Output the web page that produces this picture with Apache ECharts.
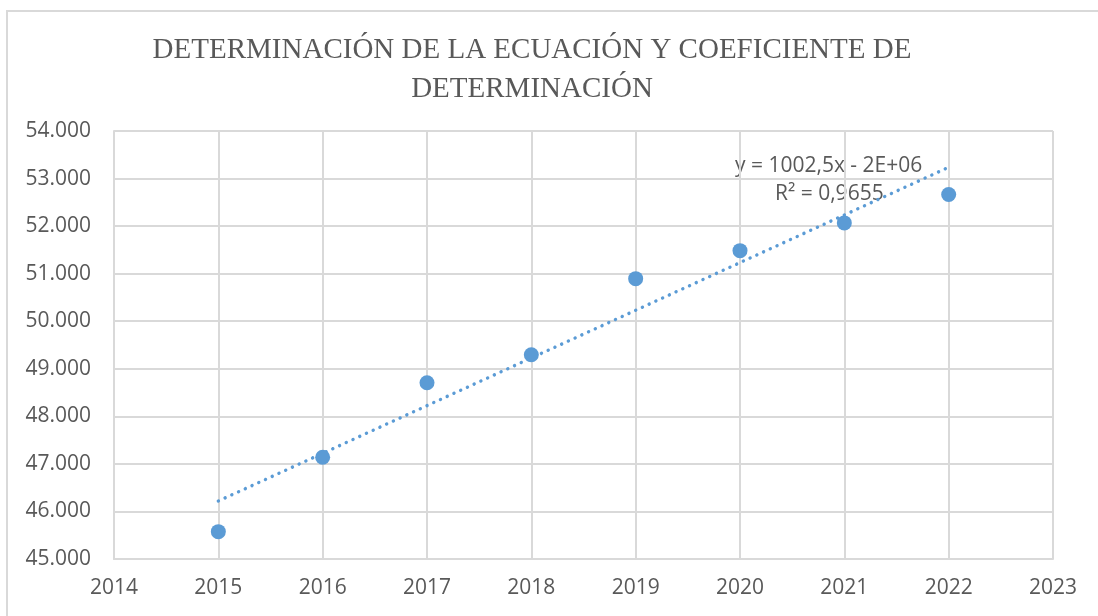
<!DOCTYPE html>
<html>
<head>
<meta charset="utf-8">
<title>Determinación de la ecuación y coeficiente de determinación</title>
<script src="https://cdn.jsdelivr.net/npm/echarts@6/dist/echarts.min.js"></script>
<style>
  html, body { margin: 0; padding: 0; background: #ffffff; }
  #chart { width: 1098px; height: 616px; }
</style>
</head>
<body>
<div id="chart"></div>
<script>
// Observed values per year
const years = [2015, 2016, 2017, 2018, 2019, 2020, 2021, 2022];
const values = [45575, 47141, 48705, 49295, 50895, 51484, 52068, 52666];

// Axis ranges
const xTicks = [2014, 2015, 2016, 2017, 2018, 2019, 2020, 2021, 2022, 2023];
const yMin = 45000, yMax = 54000, yStep = 1000;

// Trend line annotation text
const equationText = 'y = 1002,5x - 2E+06';
const r2Text = 'R² = 0,9655';

const titleText = 'DETERMINACIÓN DE LA ECUACIÓN Y COEFICIENTE DE\nDETERMINACIÓN';

// Least-squares linear fit of the observed points
function linearFit(xs, ys) {
  const n = xs.length;
  const mx = xs.reduce((a, b) => a + b, 0) / n;
  const my = ys.reduce((a, b) => a + b, 0) / n;
  let sxy = 0, sxx = 0;
  for (let i = 0; i < n; i++) {
    sxy += (xs[i] - mx) * (ys[i] - my);
    sxx += (xs[i] - mx) * (xs[i] - mx);
  }
  const slope = sxy / sxx;
  return { slope, intercept: my - slope * mx };
}
const fit = linearFit(years, values);
const xFirst = years[0], xLast = years[years.length - 1];
const trendData = [
  [xFirst, fit.intercept + fit.slope * xFirst],
  [xLast, fit.intercept + fit.slope * xLast]
];

const textColor = '#595959';
const gridColor = '#D9D9D9';
const markColor = '#5B9BD5';
const sansFont = '"Open Sans", "Noto Sans", sans-serif';

const chart = echarts.init(document.getElementById('chart'), null, { renderer: 'canvas' });

chart.setOption({
  backgroundColor: '#ffffff',
  animation: false,
  title: {
    text: titleText,
    left: 527,
    top: 26,
    textAlign: 'center',
    textStyle: {
      fontFamily: '"Liberation Serif", "DejaVu Serif", serif',
      fontWeight: 'normal',
      fontSize: 29,
      lineHeight: 39,
      color: textColor
    }
  },
  graphic: [
    {
      type: 'polyline',
      silent: true,
      shape: { points: [[7, 616], [7, 11], [1098, 11]] },
      style: { stroke: gridColor, lineWidth: 2, fill: null }
    },
    {
      type: 'text',
      left: 735,
      top: 156,
      style: { text: equationText, font: '21px ' + sansFont, fill: textColor }
    },
    {
      type: 'text',
      left: 775,
      top: 184,
      style: { text: r2Text, font: '21px ' + sansFont, fill: textColor }
    }
  ],
  grid: { left: 114, right: 45, top: 131, bottom: 57, containLabel: false },
  xAxis: {
    type: 'value',
    min: xTicks[0],
    max: xTicks[xTicks.length - 1],
    interval: 1,
    axisLine: { show: true, lineStyle: { color: gridColor, width: 2 } },
    axisTick: { show: false },
    axisLabel: {
      color: textColor,
      fontFamily: sansFont,
      fontSize: 21,
      margin: 19,
      formatter: v => String(v)
    },
    splitLine: { show: true, lineStyle: { color: gridColor, width: 2 } }
  },
  yAxis: {
    type: 'value',
    min: yMin,
    max: yMax,
    interval: yStep,
    axisLine: { show: true, lineStyle: { color: gridColor, width: 2 } },
    axisTick: { show: false },
    axisLabel: {
      color: textColor,
      fontFamily: sansFont,
      fontSize: 21,
      margin: 23,
      formatter: v => (v / 1000).toFixed(3)
    },
    splitLine: { show: true, lineStyle: { color: gridColor, width: 2 } }
  },
  series: [
    {
      name: 'Tendencia',
      type: 'line',
      data: trendData,
      symbol: 'none',
      silent: true,
      z: 2,
      lineStyle: {
        color: markColor,
        width: 3.4,
        type: [0.1, 7.3],
        cap: 'round'
      }
    },
    {
      name: 'Valores',
      type: 'scatter',
      data: years.map((y, i) => [y, values[i]]),
      symbol: 'circle',
      symbolSize: 15,
      z: 3,
      itemStyle: { color: markColor, opacity: 1 }
    }
  ]
});
</script>
</body>
</html>
